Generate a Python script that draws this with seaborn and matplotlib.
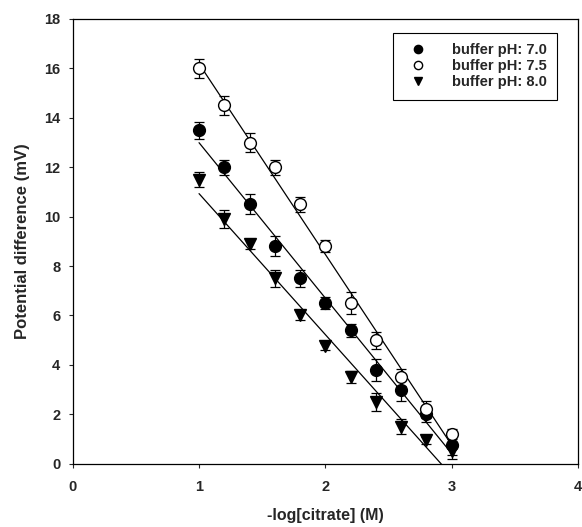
import numpy as np
import matplotlib
matplotlib.use("Agg")
import matplotlib.pyplot as plt
import seaborn as sns

sns.set_style("ticks")
plt.rcParams['font.family'] = ['Liberation Sans', 'DejaVu Sans']
plt.rcParams['font.weight'] = 'bold'

# -log[citrate] (M)
x = [1.0, 1.2, 1.4, 1.6, 1.8, 2.0, 2.2, 2.4, 2.6, 2.8, 3.0]
# potential difference (mV)
ph70 = [13.5, 12.0, 10.5, 8.8, 7.5, 6.5, 5.4, 3.8, 3.0, 2.0, 0.75]
ph75 = [16.0, 14.5, 13.0, 12.0, 10.5, 8.8, 6.5, 5.0, 3.5, 2.2, 1.2]
ph80 = [11.5, 9.9, 8.9, 7.5, 6.0, 4.75, 3.5, 2.5, 1.5, 0.95, 0.5]
err70 = [0.35, 0.3, 0.4, 0.4, 0.35, 0.25, 0.25, 0.45, 0.45, 0.3, 0.4]
err75 = [0.4, 0.4, 0.4, 0.3, 0.3, 0.25, 0.45, 0.35, 0.35, 0.35, 0.2]
err80 = [0.3, 0.35, 0.2, 0.35, 0.2, 0.15, 0.25, 0.35, 0.3, 0.15, 0.3]
labels = ["buffer pH: 7.0", "buffer pH: 7.5", "buffer pH: 8.0"]

fig = plt.figure(figsize=(5.82, 5.27), dpi=100)
ax = fig.add_axes([0.125, 0.12, 0.868, 0.844])

series = [(ph70, err70, 'o', 'black'), (ph75, err75, 'o', 'white'), (ph80, err80, 'v', 'black')]
for (y, e, m, fc), lab in zip(series, labels):
    sns.regplot(x=np.array(x), y=np.array(y), ax=ax, scatter=False, ci=None,
                truncate=True, color='black', line_kws={'lw': 0.9})
    ax.errorbar(x, y, yerr=e, fmt='none', ecolor='black', elinewidth=0.9,
                capsize=3.5, capthick=0.9, zorder=3)
    ax.plot(x, y, linestyle='none', marker=m, markersize=8.5, markerfacecolor=fc,
            markeredgecolor='black', markeredgewidth=1.0, label=lab, zorder=4)

ax.set_xlim(0, 4)
ax.set_ylim(0, 18)
ax.set_xticks([0, 1, 2, 3, 4])
ax.set_yticks(range(0, 19, 2))
ax.tick_params(direction='out', length=3, width=0.8, labelsize=10.5, pad=6)
ax.tick_params(axis='x', pad=9)
for lab in ax.get_xticklabels() + ax.get_yticklabels():
    lab.set_fontweight('bold')
for s in ax.spines.values():
    s.set_visible(True)
    s.set_linewidth(0.9)
    s.set_color('black')

ax.set_xlabel("-log[citrate] (M)", fontsize=11.5, fontweight='bold', labelpad=10)
ax.set_ylabel("Potential difference (mV)", fontsize=12, fontweight='bold', labelpad=10)

leg = ax.legend(loc='upper right', bbox_to_anchor=(0.958, 0.969), borderaxespad=0,
                fontsize=10.5, markerscale=0.7, handletextpad=1.3, borderpad=0.7,
                labelspacing=0.15, fancybox=False, framealpha=1, edgecolor='black')
leg.get_frame().set_linewidth(0.8)
for t in leg.get_texts():
    t.set_fontweight('bold')

fig.savefig("out.png", dpi=100)
